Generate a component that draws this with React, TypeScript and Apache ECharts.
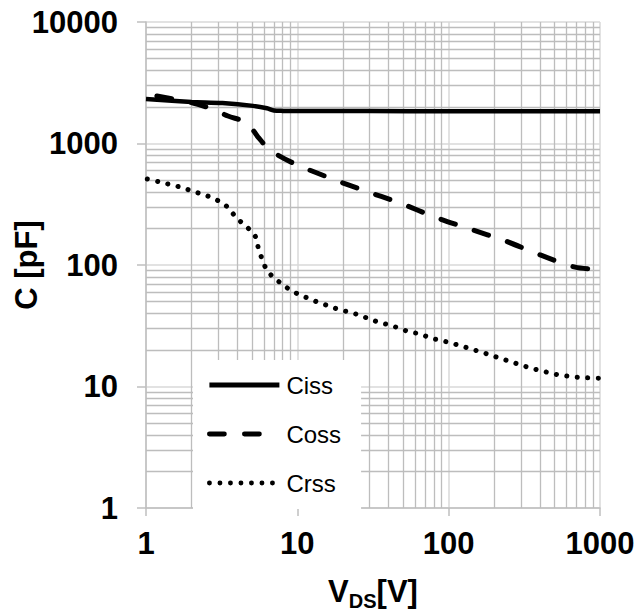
import React, { useEffect, useRef } from "react";
import * as echarts from "echarts";

const cissV = [1, 2, 3.2, 5.1, 6.3, 7, 8, 10, 30, 100, 1000];
const cissC = [2320, 2200, 2150, 2040, 1950, 1870, 1855, 1852, 1848, 1845, 1840];

const cossV = [1.18, 2.04, 2.73, 3.48, 4.65, 5.5, 6.6, 9.35, 16.4, 27, 47.6, 81, 138, 236, 403, 685, 1000];
const cossC = [2460, 2155, 1923, 1684, 1475, 1130, 884, 692, 520, 414, 324, 248, 198, 158, 121, 96, 92];

const crssV = [1.02, 1.21, 1.4, 1.65, 1.93, 2.25, 2.62, 3.05, 3.46, 3.83, 4.29, 4.87, 5.33, 5.53, 5.82, 6.2, 6.87, 7.78, 8.87, 10.3, 11.9, 13.9, 16.2, 18.8, 22, 25.6, 29.9, 34.7, 41, 47.6, 56, 65.4, 76, 88.4, 103, 122, 143, 167, 195, 228, 266, 312, 362, 426, 493, 578, 685, 805, 1000];
const crssC = [510, 485, 464, 441, 414, 389, 365, 334, 300, 257, 223, 194, 168, 137, 114, 94, 80, 71, 63, 57, 53, 49, 46, 43, 41, 38.7, 36, 33.7, 32, 30, 28, 27, 25, 24, 22.8, 21.5, 20.2, 19.1, 17.9, 16.8, 15.8, 14.8, 14, 13.3, 12.7, 12.3, 11.97, 11.8, 11.7];

const xMinorTicks = [2, 3, 4, 5, 6, 7, 8, 9, 20, 30, 40, 50, 60, 70, 80, 90, 200, 300, 400, 500, 600, 700, 800, 900];
const yMinorTicks = [2, 3, 4, 5, 6, 7, 8, 9, 20, 30, 40, 50, 60, 70, 80, 90, 200, 300, 400, 500, 600, 700, 800, 900, 2000, 3000, 4000, 5000, 6000, 7000, 8000, 9000];

const FONT = "'Liberation Sans', Arial, Helvetica, sans-serif";

const zip = (xs: number[], ys: number[]) => xs.map((x, i) => [x, ys[i]]);

export default function App() {
  const ref = useRef<HTMLDivElement>(null);
  useEffect(() => {
    if (!ref.current) return;
    const chart = echarts.init(ref.current, null, { renderer: "svg" });
    const fmt = (v: number) => String(Math.round(v));
    chart.setOption({
      animation: false,
      backgroundColor: "#ffffff",
      textStyle: { fontFamily: FONT },
      grid: { left: 146, right: 37, top: 22, bottom: 105, containLabel: false, outerBoundsMode: "none" },
      xAxis: {
        type: "log",
        logBase: 10,
        min: 1,
        max: 1000,
        name: "{v|V}{s|DS}{v|[V]}",
        nameLocation: "middle",
        nameGap: 63,
        nameMoveOverlap: false,
        nameTextStyle: {
          rich: {
            v: { fontSize: 31, fontWeight: "bold", color: "#000", fontFamily: FONT, lineHeight: 40, verticalAlign: "middle" },
            s: { fontSize: 20, fontWeight: "bold", color: "#000", fontFamily: FONT, lineHeight: 20, verticalAlign: "bottom" },
          },
        },
        axisLine: { lineStyle: { color: "#bfbfbf", width: 1.5 } },
        axisTick: { show: true, length: 8, lineStyle: { color: "#bfbfbf", width: 1.5 } },
        axisLabel: { fontSize: 31, fontWeight: "bold", color: "#000", margin: 20, formatter: fmt, fontFamily: FONT },
        splitLine: { show: true, lineStyle: { color: "#d9d9d9", width: 1.5 } },
      },
      yAxis: {
        type: "log",
        logBase: 10,
        min: 1,
        max: 10000,
        name: "C [pF]",
        nameLocation: "middle",
        nameRotate: 90,
        nameGap: 104,
        nameMoveOverlap: false,
        nameTextStyle: { fontSize: 31, fontWeight: "bold", color: "#000", fontFamily: FONT },
        axisLine: { show: true, lineStyle: { color: "#bfbfbf", width: 1.5 } },
        axisTick: { show: true, length: 9, lineStyle: { color: "#bfbfbf", width: 1.5 } },
        axisLabel: { fontSize: 31, fontWeight: "bold", color: "#000", margin: 28, formatter: fmt, fontFamily: FONT },
        splitLine: { show: true, lineStyle: { color: "#d9d9d9", width: 1.5 } },
      },
      legend: {
        show: true,
        data: ["Ciss", "Coss", "Crss"],
        orient: "vertical",
        left: 193,
        top: 360,
        padding: [13, 20, 14, 14],
        itemGap: 25,
        itemWidth: 70,
        itemHeight: 20,
        selectedMode: false,
        backgroundColor: "#ffffff",
        itemStyle: { opacity: 0 },
        lineStyle: { width: 4.8 },
        textStyle: { fontSize: 24, color: "#000", fontFamily: FONT, lineHeight: 20, padding: [0, 0, 0, 2] },
      },
      series: [
        {
          name: "grid",
          type: "line",
          z: 1,
          data: [],
          silent: true,
          markLine: {
            z: 1,
            silent: true,
            symbol: ["none", "none"],
            label: { show: false },
            lineStyle: { color: "#bdbdbd", width: 1.3, type: "solid" },
            data: [
              ...xMinorTicks.map((v) => ({ xAxis: v })),
              ...yMinorTicks.map((v) => ({ yAxis: v })),
            ],
          },
        },
        {
          name: "Ciss",
          type: "line",
          z: 3,
          symbol: "none",
          showSymbol: false,
          smooth: 0.3,
          data: zip(cissV, cissC),
          lineStyle: { color: "#000", width: 4.5, type: "solid" },
          itemStyle: { color: "#000" },
        },
        {
          name: "Coss",
          type: "line",
          z: 3,
          symbol: "none",
          showSymbol: false,
          smooth: 0.3,
          data: zip(cossV, cossC),
          lineStyle: { color: "#000", width: 5, type: [15, 20], cap: "round" },
          itemStyle: { color: "#000" },
        },
        {
          name: "Crss",
          type: "line",
          z: 3,
          symbol: "none",
          showSymbol: false,
          smooth: 0.3,
          data: zip(crssV, crssC),
          lineStyle: { color: "#000", width: 5, type: [0.1, 10.4], cap: "round" },
          itemStyle: { color: "#000" },
        },
      ],
    });
    return () => chart.dispose();
  }, []);
  return <div ref={ref} style={{ width: 637, height: 613, position: "absolute", left: 0, top: 0 }} />;
}
